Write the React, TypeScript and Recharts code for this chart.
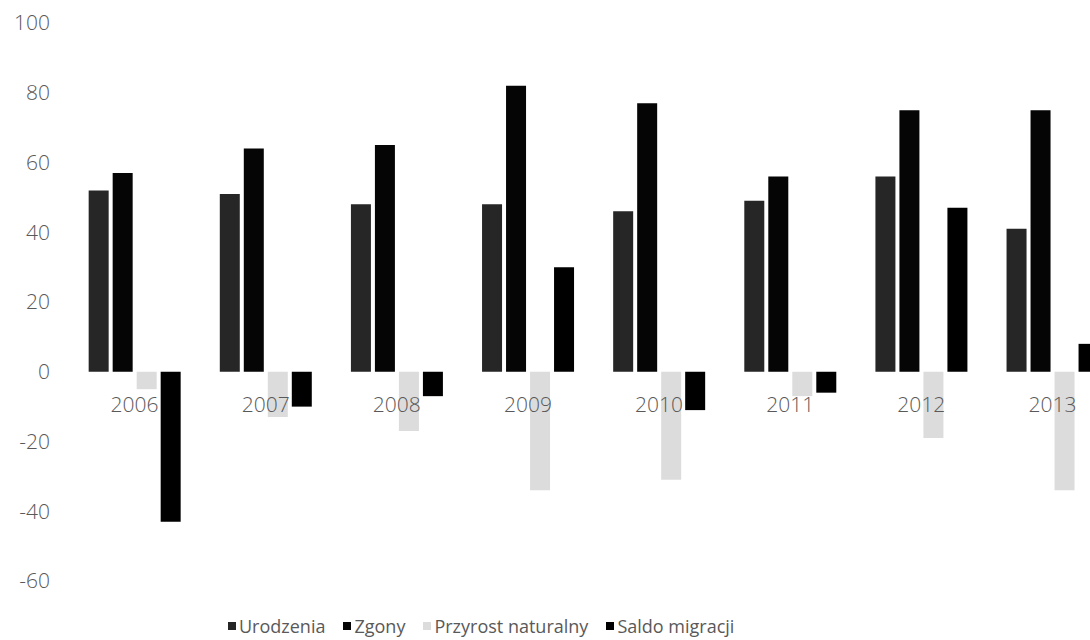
import { BarChart, Bar, XAxis, YAxis, Legend } from "recharts";

const years = ["2006", "2007", "2008", "2009", "2010", "2011", "2012", "2013"];
const urodzenia = [52, 51, 48, 48, 46, 49, 56, 41];
const zgony = [57, 64, 65, 82, 77, 56, 75, 75];
const przyrost = [-5, -13, -17, -34, -31, -7, -19, -34];
const saldo = [-43, -10, -7, 30, -11, -6, 47, 8];
const yTicks = [-60, -40, -20, 0, 20, 40, 60, 80, 100];

const seriesNames = ["Urodzenia", "Zgony", "Przyrost naturalny", "Saldo migracji"];
const seriesColors = ["#262626", "#050505", "#dcdcdc", "#000000"];

const data = years.map((year, i) => ({
  year,
  urodzenia: urodzenia[i],
  zgony: zgony[i],
  przyrost: przyrost[i],
  saldo: saldo[i],
}));

const Y_MIN = -60;
const Y_MAX = 100;
const CHART_W = 1130;
const CHART_H = 640;
const MARGIN = { top: 23, right: 12, left: 9, bottom: 29 };
const X_AXIS_H = 30;
const PLOT_H = CHART_H - MARGIN.top - MARGIN.bottom - X_AXIS_H;
const ZERO_Y = MARGIN.top + (PLOT_H * Y_MAX) / (Y_MAX - Y_MIN);

const FONT = "'Open Sans', sans-serif";
const TEXT_COLOR = "#595959";

// year labels sit just under the zero line, not at the bottom of the plot
function YearTick(props: any) {
  const { x, payload } = props;
  return (
    <text
      x={x}
      y={ZERO_Y + 40}
      textAnchor="middle"
      fill={TEXT_COLOR}
      fontSize={21}
      fontFamily={FONT}
      fontWeight={300}
    >
      {payload.value}
    </text>
  );
}

function LegendContent() {
  return (
    <div style={{ display: "flex", alignItems: "center", fontFamily: FONT, fontSize: 18, color: TEXT_COLOR }}>
      {seriesNames.map((name, i) => (
        <div key={name} style={{ display: "flex", alignItems: "center", marginRight: 18 }}>
          <span
            style={{
              display: "inline-block",
              width: 8,
              height: 8,
              background: seriesColors[i],
              marginRight: 3,
            }}
          />
          <span>{name}</span>
        </div>
      ))}
    </div>
  );
}

export default function App() {
  return (
    <div
      style={{
        position: "absolute",
        left: 0,
        top: 0,
        width: 1090,
        height: 640,
        overflow: "hidden",
        background: "#fff",
      }}
    >
      <BarChart
        width={CHART_W}
        height={CHART_H}
        data={data}
        margin={MARGIN}
        barCategoryGap="15%"
        barGap={4}
      >
        <XAxis
          dataKey="year"
          height={X_AXIS_H}
          axisLine={false}
          tickLine={false}
          interval={0}
          tick={<YearTick />}
        />
        <YAxis
          domain={[Y_MIN, Y_MAX]}
          ticks={yTicks}
          width={60}
          axisLine={false}
          tickLine={false}
          tickMargin={13}
          tick={{ fill: TEXT_COLOR, fontSize: 21, fontFamily: FONT, fontWeight: 300 }}
        />
        <Legend
          layout="horizontal"
          verticalAlign="middle"
          align="center"
          content={<LegendContent />}
          wrapperStyle={{ top: 614, left: 228, width: "auto" }}
        />
        <Bar dataKey="urodzenia" name={seriesNames[0]} fill={seriesColors[0]} isAnimationActive={false} />
        <Bar dataKey="zgony" name={seriesNames[1]} fill={seriesColors[1]} isAnimationActive={false} />
        <Bar dataKey="przyrost" name={seriesNames[2]} fill={seriesColors[2]} isAnimationActive={false} />
        <Bar dataKey="saldo" name={seriesNames[3]} fill={seriesColors[3]} isAnimationActive={false} />
      </BarChart>
    </div>
  );
}
